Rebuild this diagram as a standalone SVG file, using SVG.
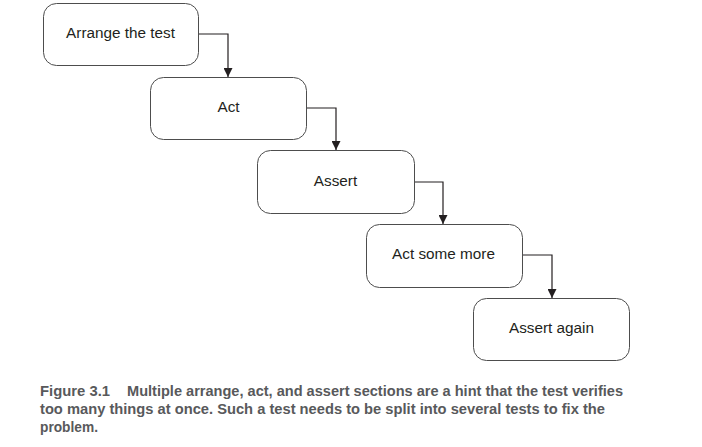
<svg xmlns="http://www.w3.org/2000/svg" width="702" height="447" viewBox="0 0 702 447">
<defs>
<style>
.box{fill:#fff;stroke:#4d4d4d;stroke-width:1}
.lbl{font-family:"Liberation Sans",Arial,sans-serif;font-size:15.3px;fill:#231f20;text-anchor:middle}
.conn{fill:none;stroke:#231f20;stroke-width:1.2}
.cap{font-family:"Liberation Sans",Arial,sans-serif;font-size:15px;font-weight:bold;fill:#58595b}
</style>
<marker id="ah" viewBox="0 0 10 10" refX="10" refY="5" markerWidth="9" markerHeight="9" markerUnits="userSpaceOnUse" orient="auto">
<path d="M0,0 L10,5 L0,10 z" fill="#231f20"/>
</marker>
</defs>
<rect width="702" height="447" fill="#fff"/>
<g id="connectors">
<path class="conn" d="M198,34 H228 V77" marker-end="url(#ah)"/>
<path class="conn" d="M307,108 H336 V150" marker-end="url(#ah)"/>
<path class="conn" d="M414,182 H443 V224" marker-end="url(#ah)"/>
<path class="conn" d="M522,255 H552 V298" marker-end="url(#ah)"/>
</g>
<g id="arrange">
<rect class="box" x="43.5" y="3.5" width="155" height="62" rx="13"/>
<text class="lbl" x="120.5" y="38">Arrange the test</text>
</g>
<g id="act">
<rect class="box" x="150.5" y="77.5" width="156" height="62" rx="13"/>
<text class="lbl" x="228.5" y="112">Act</text>
</g>
<g id="assert">
<rect class="box" x="257.5" y="150.5" width="157" height="63" rx="13"/>
<text class="lbl" x="335.5" y="186">Assert</text>
</g>
<g id="act-more">
<rect class="box" x="366.5" y="224.5" width="156" height="63" rx="13"/>
<text class="lbl" x="443.5" y="259">Act some more</text>
</g>
<g id="assert-again">
<rect class="box" x="473.5" y="298.5" width="156" height="62" rx="13"/>
<text class="lbl" x="551.5" y="333">Assert again</text>
</g>
<g id="caption">
<text class="cap" x="40" y="396" textLength="70" lengthAdjust="spacingAndGlyphs">Figure 3.1</text>
<text class="cap" x="127" y="396" textLength="496" lengthAdjust="spacingAndGlyphs">Multiple arrange, act, and assert sections are a hint that the test verifies</text>
<text class="cap" x="40" y="414" textLength="565" lengthAdjust="spacingAndGlyphs">too many things at once. Such a test needs to be split into several tests to fix the</text>
<text class="cap" x="40" y="432" textLength="58" lengthAdjust="spacingAndGlyphs">problem.</text>
</g>
</svg>
